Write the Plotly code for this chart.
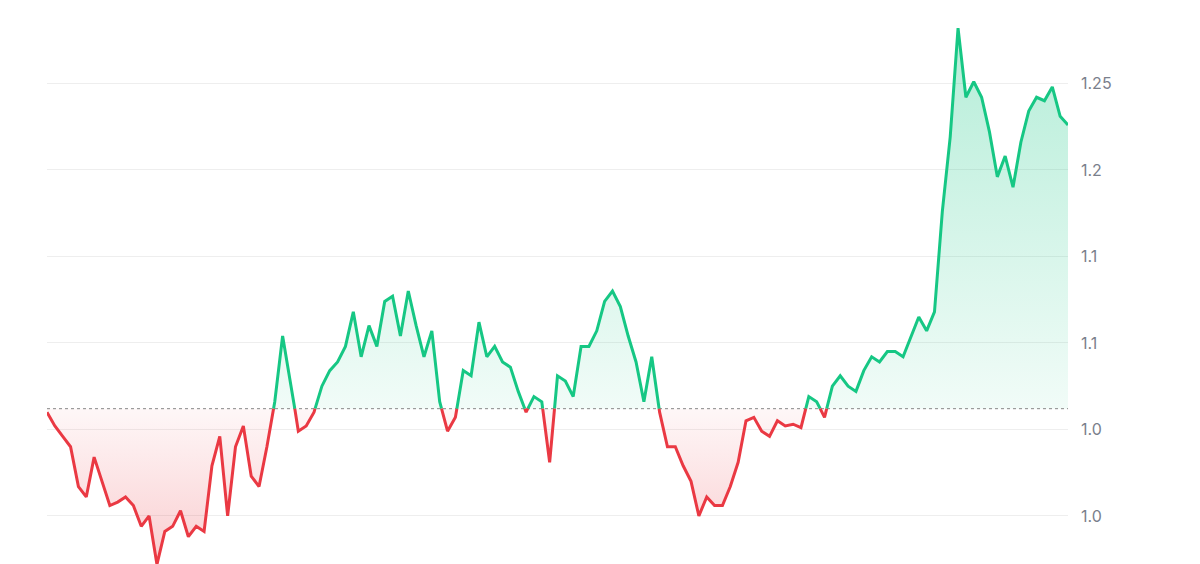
import plotly.graph_objects as go

values = [1.060,1.052,1.046,1.040,1.017,1.011,1.034,1.020,1.006,1.008,1.011,1.006,0.994,1.000,0.972,0.991,0.994,1.003,0.988,0.994,0.991,1.029,1.046,1.000,1.040,1.052,1.023,1.017,1.040,1.066,1.104,1.078,1.049,1.052,1.060,1.075,1.084,1.089,1.098,1.118,1.092,1.110,1.098,1.124,1.127,1.104,1.130,1.110,1.092,1.107,1.066,1.049,1.057,1.084,1.081,1.112,1.092,1.098,1.089,1.086,1.072,1.060,1.069,1.066,1.031,1.081,1.078,1.069,1.098,1.098,1.107,1.124,1.130,1.121,1.104,1.089,1.066,1.092,1.060,1.040,1.040,1.029,1.020,1.000,1.011,1.006,1.006,1.017,1.031,1.055,1.057,1.049,1.046,1.055,1.052,1.053,1.051,1.069,1.066,1.057,1.075,1.081,1.075,1.072,1.084,1.092,1.089,1.095,1.095,1.092,1.104,1.115,1.107,1.118,1.176,1.219,1.282,1.242,1.251,1.242,1.222,1.196,1.208,1.190,1.216,1.234,1.242,1.240,1.248,1.231,1.226]
baseline = 1.062
tick_vals = [1.00, 1.05, 1.10, 1.15, 1.20, 1.25]
tick_text = ["1.0", "1.0", "1.1", "1.1", "1.2", "1.25"]

xs, ys = [0], [values[0]]
for i in range(1, len(values)):
    a, b = values[i-1], values[i]
    if (a - baseline) * (b - baseline) < 0:
        t = (baseline - a) / (b - a)
        xs.append(i - 1 + t); ys.append(baseline)
    xs.append(i); ys.append(b)

up = [y if y >= baseline else None for y in ys]
dn = [y if y <= baseline else None for y in ys]
upf = [max(y, baseline) for y in ys]
dnf = [min(y, baseline) for y in ys]
base = [baseline] * len(xs)
G, R = "#16c784", "#ea3943"

fig = go.Figure()
fig.add_trace(go.Scatter(x=xs, y=base, mode="lines", line=dict(width=0), hoverinfo="skip"))
fig.add_trace(go.Scatter(x=xs, y=upf, mode="lines", line=dict(width=0), fill="tonexty",
    fillgradient=dict(type="vertical", colorscale=[[0, "rgba(22,199,132,0.06)"], [1, "rgba(22,199,132,0.32)"]])))
fig.add_trace(go.Scatter(x=xs, y=base, mode="lines", line=dict(width=0), hoverinfo="skip"))
fig.add_trace(go.Scatter(x=xs, y=dnf, mode="lines", line=dict(width=0), fill="tonexty",
    fillgradient=dict(type="vertical", colorscale=[[0, "rgba(234,57,67,0.25)"], [1, "rgba(234,57,67,0.04)"]])))
fig.add_trace(go.Scatter(x=[0, len(values)-1], y=[baseline]*2, mode="lines",
    line=dict(color="#888", width=1, dash="dot")))
fig.add_trace(go.Scatter(x=xs, y=up, mode="lines", line=dict(color=G, width=3), connectgaps=False))
fig.add_trace(go.Scatter(x=xs, y=dn, mode="lines", line=dict(color=R, width=3), connectgaps=False))

fig.update_layout(
    width=1200, height=564, showlegend=False, plot_bgcolor="white", paper_bgcolor="white",
    margin=dict(l=39, r=140, t=0, b=0),
    xaxis=dict(range=[0, len(values)-1], showgrid=False, showticklabels=False, zeroline=False,
               showline=True, mirror=True, linecolor="#eeeeee", linewidth=1),
    yaxis=dict(range=[0.9676, 1.2936], side="right", tickvals=tick_vals, ticktext=tick_text,
               gridcolor="#eeeeee", zeroline=False, ticks="", ticklabelstandoff=12,
               tickfont=dict(family="Inter", size=16, color="#7a808c")),
)
fig.write_html("out.html")
